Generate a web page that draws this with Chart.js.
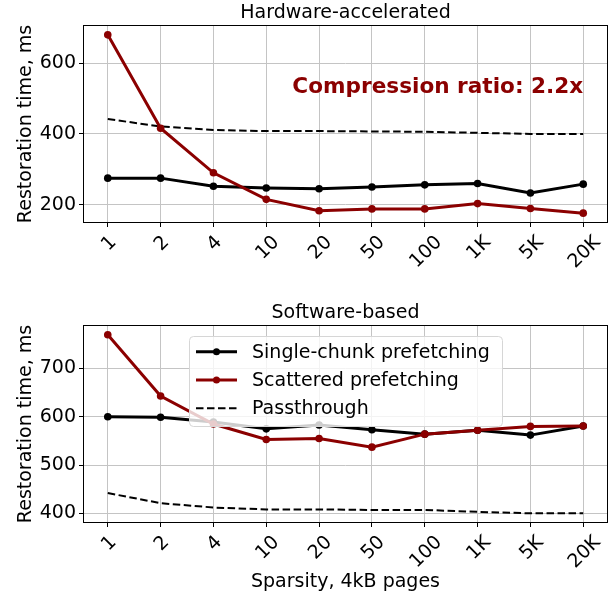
<!DOCTYPE html>
<html lang="en">
<head>
<meta charset="UTF-8">
<title>Restoration time vs sparsity</title>
<script src="https://cdn.jsdelivr.net/npm/chart.js"></script>
<style>
    body { margin: 0; background: #fff; }
    .panel { position: absolute; left: 0; width: 613px; }
    #top { top: 0; height: 300px; }
    #bottom { top: 300px; height: 296px; }
</style>
</head>
<body>
<div class="panel" id="top"><canvas id="hwChart" width="613" height="300"></canvas></div>
<div class="panel" id="bottom"><canvas id="swChart" width="613" height="296"></canvas></div>

<script>
// x categories (sparsity, 4kB pages)
const sparsity = ['1', '2', '4', '10', '20', '50', '100', '1K', '5K', '20K'];

// Hardware-accelerated panel
const hwSingle    = [275, 275, 252, 247, 245, 250, 256, 260, 233, 258];
const hwScattered = [680, 416, 290, 215, 183, 188, 188, 203, 189, 176];
const hwPass      = [442, 421, 411, 408, 408, 407, 406, 403, 400, 400];
const hwTicks     = [200, 400, 600];

// Software-based panel
const swSingle    = [600, 599, 589, 575, 583, 573, 564, 572, 562, 581];
const swScattered = [770, 643, 585, 553, 555, 537, 564, 572, 580, 581];
const swPass      = [442, 421, 412, 408, 408, 407, 407, 403, 400, 400];
const swTicks     = [400, 500, 600, 700];

const seriesNames = ['Single-chunk prefetching', 'Scattered prefetching', 'Passthrough'];
const darkRed = '#8b0000';
const FONT = 'DejaVu Sans';

Chart.defaults.font.family = FONT;
Chart.defaults.font.size = 19;
Chart.defaults.color = '#000';

function pts(arr) {
    return arr.map((v, i) => ({ x: i, y: v }));
}

function makeDatasets(single, scattered, pass) {
    return [
        { label: seriesNames[0], data: pts(single), borderColor: '#000', backgroundColor: '#000',
          borderWidth: 3, pointRadius: 3.8, pointBorderWidth: 0, pointHoverRadius: 3.8, order: 2 },
        { label: seriesNames[1], data: pts(scattered), borderColor: darkRed, backgroundColor: darkRed,
          borderWidth: 3, pointRadius: 3.8, pointBorderWidth: 0, pointHoverRadius: 3.8, order: 1 },
        { label: seriesNames[2], data: pts(pass), borderColor: '#000', backgroundColor: '#000',
          borderWidth: 2, borderDash: [7.5, 3.5], pointRadius: 0, order: 3 }
    ];
}

// panel title centred over the plot area
const titlePlugin = {
    id: 'panelTitle',
    afterDraw(chart, args, opts) {
        const a = chart.chartArea, ctx = chart.ctx;
        ctx.save();
        ctx.font = '19px "' + FONT + '"';
        ctx.fillStyle = '#000';
        ctx.textAlign = 'center';
        ctx.textBaseline = 'middle';
        ctx.fillText(opts.text, (a.left + a.right) / 2, 13);
        ctx.restore();
    }
};

// full box around the plot, like matplotlib spines
const framePlugin = {
    id: 'frame',
    afterDatasetsDraw(chart) {
        const a = chart.chartArea, ctx = chart.ctx;
        ctx.save();
        ctx.strokeStyle = '#000';
        ctx.lineWidth = 1;
        ctx.strokeRect(Math.round(a.left) - 0.5, Math.round(a.top) - 0.5,
                       Math.round(a.right - a.left) + 1, Math.round(a.bottom - a.top) + 1);
        ctx.restore();
    }
};

// rotated x tick labels centred under each tick
const xLabelPlugin = {
    id: 'xLabels',
    afterDraw(chart) {
        const xs = chart.scales.x, ctx = chart.ctx;
        const bottom = chart.chartArea.bottom;
        ctx.save();
        ctx.font = '19px "' + FONT + '"';
        ctx.fillStyle = '#000';
        ctx.textAlign = 'center';
        ctx.textBaseline = 'alphabetic';
        sparsity.forEach((lab, i) => {
            const m = ctx.measureText(lab);
            const h = m.actualBoundingBoxAscent;
            const cx = xs.getPixelForValue(i);
            const cy = bottom + 11 + (m.width + h) * Math.SQRT1_2 / 2;
            ctx.save();
            ctx.translate(cx, cy);
            ctx.rotate(-Math.PI / 4);
            ctx.fillText(lab, 0, h / 2);
            ctx.restore();
        });
        ctx.restore();
    }
};

const ratioPlugin = {
    id: 'ratio',
    afterDatasetsDraw(chart) {
        const ctx = chart.ctx;
        ctx.save();
        ctx.font = 'bold 21.6px "' + FONT + '"';
        ctx.fillStyle = darkRed;
        ctx.textAlign = 'right';
        ctx.textBaseline = 'alphabetic';
        ctx.fillText('Compression ratio: 2.2x', chart.scales.x.getPixelForValue(9), 92.5);
        ctx.restore();
    }
};

const legendBoxPlugin = {
    id: 'legendBox',
    afterDatasetsDraw(chart) {
        const ctx = chart.ctx;
        const bx = 189.5, by = 36.5, bw = 313, bh = 90;
        ctx.save();
        ctx.beginPath();
        ctx.roundRect(bx, by, bw, bh, 4);
        ctx.fillStyle = 'rgba(255,255,255,0.8)';
        ctx.fill();
        ctx.strokeStyle = '#d6d6d6';
        ctx.lineWidth = 1;
        ctx.stroke();
        ctx.font = '19px "' + FONT + '"';
        ctx.textBaseline = 'middle';
        ctx.textAlign = 'left';
        chart.data.datasets.forEach((ds, i) => {
            const y = 51.7 + i * 28.3;
            ctx.beginPath();
            ctx.setLineDash(ds.borderDash || []);
            ctx.strokeStyle = ds.borderColor;
            ctx.lineWidth = ds.borderWidth;
            ctx.moveTo(196, y);
            ctx.lineTo(237, y);
            ctx.stroke();
            ctx.setLineDash([]);
            if (ds.pointRadius) {
                ctx.beginPath();
                ctx.arc(216.5, y, 3.5, 0, Math.PI * 2);
                ctx.fillStyle = ds.backgroundColor;
                ctx.fill();
            }
            ctx.fillStyle = '#000';
            ctx.fillText(ds.label, 252, y + 1);
        });
        ctx.restore();
    }
};

function panelOptions(title, yMin, yMax, yTicks, canvasH, xTitle) {
    return {
        responsive: false,
        animation: false,
        devicePixelRatio: 1,
        layout: { padding: { left: 0, right: 6, top: 26, bottom: 0 } },
        plugins: {
            legend: { display: false },
            tooltip: { enabled: false },
            title: { display: false },
            panelTitle: { text: title }
        },
        scales: {
            x: {
                type: 'linear',
                min: -0.45,
                max: 9.45,
                afterBuildTicks: s => { s.ticks = sparsity.map((_, i) => ({ value: i })); },
                afterFit: s => { s.height = canvasH - 222; },
                ticks: { display: false },
                grid: { color: '#c4c4c4', lineWidth: 1, drawTicks: true, tickLength: 5, tickColor: '#000' },
                border: { display: false },
                title: {
                    display: !!xTitle,
                    text: xTitle || '',
                    font: { size: 19 },
                    color: '#000',
                    padding: { top: 0, bottom: 3 }
                }
            },
            y: {
                min: yMin,
                max: yMax,
                afterBuildTicks: s => { s.ticks = yTicks.map(v => ({ value: v })); },
                afterFit: s => { s.width = 84; },
                ticks: { padding: 3, color: '#000', font: { size: 19 } },
                grid: { color: '#c4c4c4', lineWidth: 1, drawTicks: true, tickLength: 5, tickColor: '#000' },
                border: { display: false },
                title: {
                    display: true,
                    text: 'Restoration time, ms',
                    font: { size: 19 },
                    color: '#000',
                    padding: { top: 15, bottom: 0 }
                }
            }
        }
    };
}

new Chart(document.getElementById('hwChart'), {
    type: 'line',
    data: { datasets: makeDatasets(hwSingle, hwScattered, hwPass) },
    options: panelOptions('Hardware-accelerated', 151, 705, hwTicks, 300, null),
    plugins: [titlePlugin, framePlugin, xLabelPlugin, ratioPlugin]
});

new Chart(document.getElementById('swChart'), {
    type: 'line',
    data: { datasets: makeDatasets(swSingle, swScattered, swPass) },
    options: panelOptions('Software-based', 382, 788, swTicks, 296, 'Sparsity, 4kB pages'),
    plugins: [titlePlugin, framePlugin, xLabelPlugin, legendBoxPlugin]
});
</script>
</body>
</html>
